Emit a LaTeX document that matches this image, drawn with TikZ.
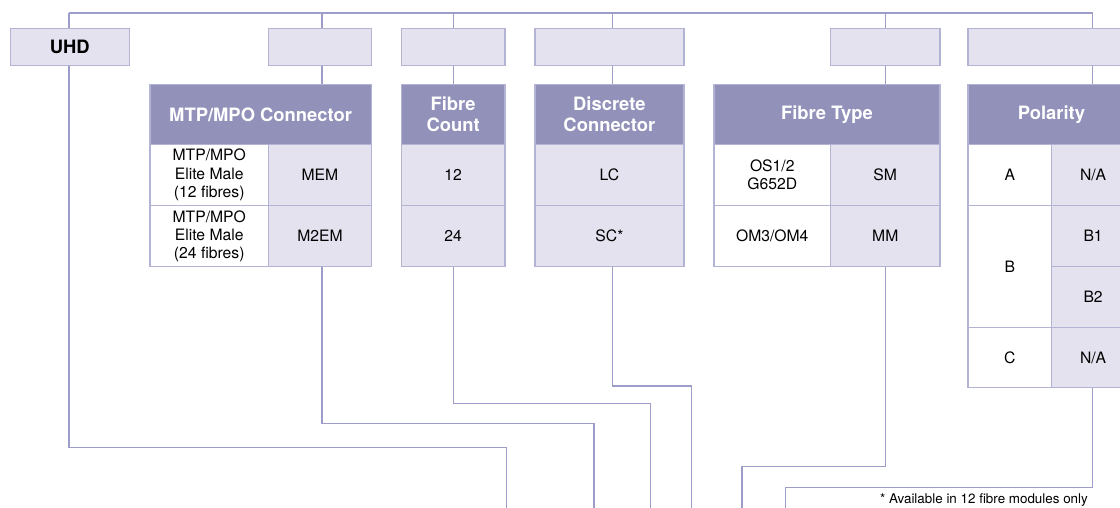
\documentclass[tikz,border=0pt]{standalone}
\usepackage{fontspec}
\setmainfont{TeX Gyre Heros}
\definecolor{hdr}{HTML}{9191B9}
\definecolor{lite}{HTML}{E3E2EE}
\definecolor{lnc}{HTML}{9D9DCA}
\definecolor{bdr}{HTML}{B3B3D3}
\begin{document}
\begin{tikzpicture}[x=1pt,y=-1pt,
  conn/.style={draw=lnc,line width=1.2pt},
  cellbase/.style={draw=bdr,line width=1.2pt,anchor=north west,inner sep=0pt,align=center},
  hcell/.style={cellbase,fill=hdr,text=white,font=\fontsize{18.4}{20.7}\selectfont\bfseries,minimum height=60pt},
  lcell/.style={cellbase,fill=lite,font=\fontsize{15.7}{18.3}\selectfont,minimum height=61pt},
  wcell/.style={cellbase,fill=white,font=\fontsize{15.7}{18.3}\selectfont,minimum height=61pt},
  topbox/.style={cellbase,fill=lite,minimum height=37pt,font=\fontsize{18.4}{20.7}\selectfont\bfseries}]
\useasboundingbox (0,0) rectangle (1120,508);
\clip (0,0) rectangle (1120,508);
% top boxes
\node[topbox,minimum width=119pt] (uhd) at (9.7,28) {UHD};
\node[topbox,minimum width=102.7pt] (topA) at (268,28) {};
\node[topbox,minimum width=103.6pt] (topB) at (400.7,28) {};
\node[topbox,minimum width=149pt] (topC) at (534.3,28) {};
\node[topbox,minimum width=109.3pt] (topD) at (830,28) {};
\node[topbox,minimum width=167pt] (topE) at (967.3,28) {};
% MTP/MPO
\node[hcell,minimum width=221.4pt] (mtpH) at (149.3,84) {MTP/MPO Connector};
\node[wcell,minimum width=118.7pt] (mtp1a) at (149.3,144) {MTP/MPO\\Elite Male\\(12 fibres)};
\node[lcell,minimum width=102.7pt] (mtp1b) at (268,144) {MEM};
\node[wcell,minimum width=118.7pt] (mtp2a) at (149.3,205) {MTP/MPO\\Elite Male\\(24 fibres)};
\node[lcell,minimum width=102.7pt] (mtp2b) at (268,205) {M2EM};
% Fibre count
\node[hcell,minimum width=103.6pt] (fcH) at (400.7,84) {Fibre\\Count};
\node[lcell,minimum width=103.6pt] (fc1) at (400.7,144) {12};
\node[lcell,minimum width=103.6pt] (fc2) at (400.7,205) {24};
% Discrete connector
\node[hcell,minimum width=149pt] (dcH) at (534.3,84) {Discrete\\Connector};
\node[lcell,minimum width=149pt] (dc1) at (534.3,144) {LC};
\node[lcell,minimum width=149pt] (dc2) at (534.3,205) {SC*};
% Fibre type
\node[hcell,minimum width=226pt] (ftH) at (713.3,84) {Fibre Type};
\node[wcell,minimum width=116.7pt] (ft1a) at (713.3,144) {OS1/2\\G652D};
\node[lcell,minimum width=109.3pt] (ft1b) at (830,144) {SM};
\node[wcell,minimum width=116.7pt] (ft2a) at (713.3,205) {OM3/OM4};
\node[lcell,minimum width=109.3pt] (ft2b) at (830,205) {MM};
% Polarity
\node[hcell,minimum width=167pt] (plH) at (967.3,84) {Polarity};
\node[wcell,minimum width=83.7pt] (plA) at (967.3,144) {A};
\node[lcell,minimum width=83pt] (plAn) at (1051,144) {N/A};
\node[wcell,minimum width=83.7pt,minimum height=122pt] (plB) at (967.3,205) {B};
\node[lcell,minimum width=83pt] (plB1) at (1051,205) {B1};
\node[lcell,minimum width=83pt] (plB2) at (1051,266) {B2};
\node[wcell,minimum width=83.7pt,minimum height=60pt] (plC) at (967.3,327) {C};
\node[lcell,minimum width=83pt,minimum height=60pt] (plCn) at (1051,327) {N/A};
% bus
\coordinate (b0) at (69,13);
\coordinate (b1) at (322,13);
\coordinate (b2) at (453.7,13);
\coordinate (b3) at (612.3,13);
\coordinate (b4) at (885.7,13);
\coordinate (b5) at (1092.7,13);
\draw[conn] (b0) -- (b5);
\draw[conn] (b0) -- (b0 |- uhd.north);
\draw[conn] (b1) -- (b1 |- topA.north);
\draw[conn] (b1 |- topA.south) -- (b1 |- mtpH.north);
\draw[conn] (b2) -- (b2 |- topB.north);
\draw[conn] (b2 |- topB.south) -- (b2 |- fcH.north);
\draw[conn] (b3) -- (b3 |- topC.north);
\draw[conn] (b3 |- topC.south) -- (b3 |- dcH.north);
\draw[conn] (b4) -- (b4 |- topD.north);
\draw[conn] (b4 |- topD.south) -- (b4 |- ftH.north);
\draw[conn] (b5) -- (b5 |- topE.north);
\draw[conn] (b5 |- topE.south) -- (b5 |- plH.north);
% bottom free ends
\coordinate (e0) at (506.3,508);
\coordinate (e1) at (594,508);
\coordinate (e2) at (650.3,508);
\coordinate (e3) at (691.7,508);
\coordinate (e4) at (742,508);
\coordinate (e5) at (785.3,508);
\draw[conn] (b0 |- uhd.south) |- (506.3,447.7) -- (e0);
\draw[conn] (b1 |- mtp2b.south) |- (594,423.7) -- (e1);
\draw[conn] (b2 |- fc2.south) |- (650.3,403.7) -- (e2);
\draw[conn] (b3 |- dc2.south) |- (691.7,386) -- (e3);
\draw[conn] (b4 |- ft2b.south) |- (742,466.7) -- (e4);
\draw[conn] (b5 |- plCn.south) |- (785.3,487.7) -- (e5);
% note
\node[anchor=base east,inner sep=0pt,font=\fontsize{13.4}{15}\selectfont] (note) at (1088,503) {* Available in 12 fibre modules only};
\end{tikzpicture}
\end{document}
